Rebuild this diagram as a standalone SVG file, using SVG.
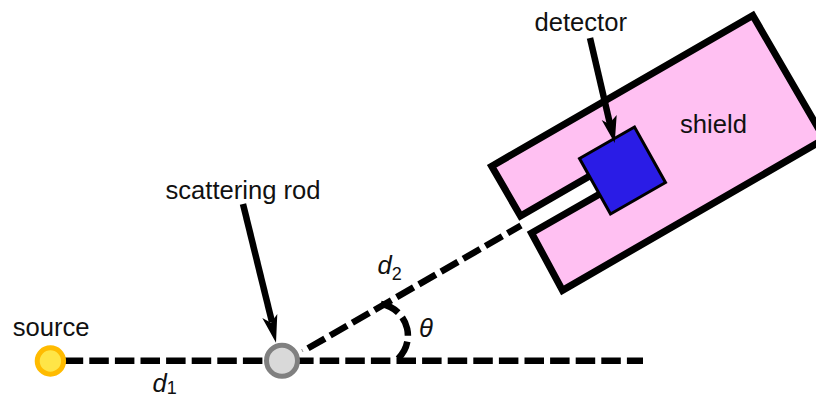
<svg xmlns="http://www.w3.org/2000/svg" width="816" height="398" viewBox="0 0 816 398">
<style>
text{font-family:"Liberation Sans",Arial,sans-serif;font-size:25.6px;fill:#111}
.i{font-style:italic}
.sub{font-size:18px;font-style:normal}
.dash{fill:none;stroke:#000;stroke-width:6.5;stroke-dasharray:19.5 6.1}
.lead{fill:none;stroke:#000;stroke-width:6.5}
.head{fill:#000;stroke:none}
</style>
<g id="shield"><path d="M491.7 166.2L752.8 15.5L824.5 139L562.5 290.3L531.5 233L612 187L601 169.5L520.5 216Z" fill="#ffc0f2" stroke="#000" stroke-width="7" stroke-linejoin="miter"/><text x="680" y="133">shield</text></g>
<g id="detector"><path d="M579.5 158.5L634.5 127L665.5 182.5L610.5 214Z" fill="#2a1ce6" stroke="#000" stroke-width="3"/><text x="534.5" y="31">detector</text></g>
<g id="connectors">
<path class="dash" d="M63.7 360.8H643"/>
<path class="dash" d="M308 348.3L521 225.5"/>
<path d="M301.6 349L303 352" fill="none" stroke="#777" stroke-width="0.8"/>
<path class="dash" d="M381 304A32 32 0 0 1 394 362"/>
<path class="lead" d="M590 38L610 124"/>
<path class="head" d="M614.7 143L601.7 120L609 124L616.7 115Z"/>
<path class="lead" d="M243 204L272 322"/>
<path class="head" d="M276 342.7L262.3 318L271 322.7L277.3 314Z"/>
</g>
<g id="source"><circle cx="50.4" cy="361" r="13.2" fill="#ffe547" stroke="#ffbb00" stroke-width="5"/><text x="12.7" y="336">source</text></g>
<g id="rod"><circle cx="282" cy="360.8" r="15.5" fill="#d9d9d9" stroke="#808080" stroke-width="5"/><text x="165.5" y="198.5">scattering rod</text></g>
<g id="labels">
<text class="i" x="152.5" y="391.5">d<tspan class="sub" dy="2.5">1</tspan></text>
<text class="i" x="377.5" y="274">d<tspan class="sub" dy="6">2</tspan></text>
<text class="i" x="419" y="337">θ</text>
</g>
</svg>
